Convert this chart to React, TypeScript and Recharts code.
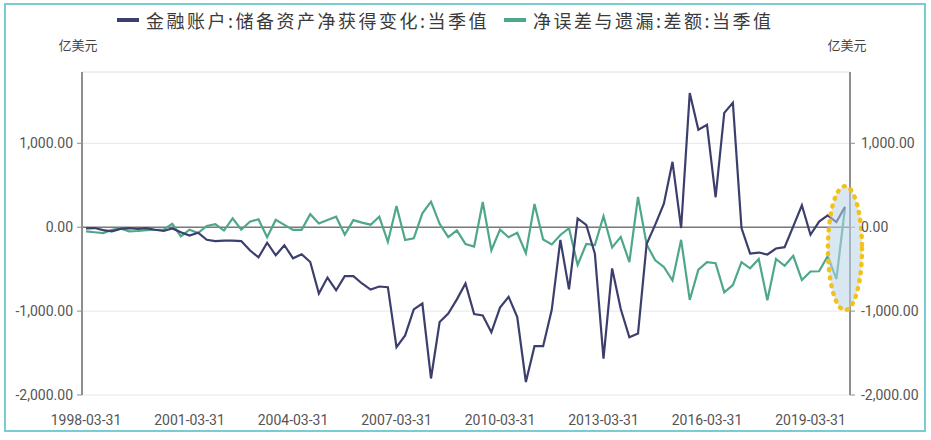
import React from "react";
import {
  CartesianGrid,
  Legend,
  Line,
  LineChart,
  ReferenceDot,
  ReferenceLine,
  XAxis,
  YAxis,
} from "recharts";

// quarterly, 1998-03-31 .. 2020-03-31
const QUARTER_ENDS = ["03-31", "06-30", "09-30", "12-31"];
const dates: string[] = [];
for (let y = 1998; y <= 2020; y++) {
  for (const q of QUARTER_ENDS) {
    if (dates.length < 89) dates.push(`${y}-${q}`);
  }
}

const xTicks = ["1998-03-31", "2001-03-31", "2004-03-31", "2007-03-31", "2010-03-31", "2013-03-31", "2016-03-31", "2019-03-31"];
const yTicks = [-2000, -1000, 0, 1000];
const Y_MIN = -2000;
const Y_MAX = 1850;

const RESERVE_NAME = "金融账户:储备资产净获得变化:当季值";
const ERRORS_NAME = "净误差与遗漏:差额:当季值";
const legendOrder = [RESERVE_NAME, ERRORS_NAME];

// 亿美元
const reserveChange = [
  -15, -10, -35, -50, -20, -10, -20, -10, -30, -45,
  -15, -60, -100, -65, -150, -165, -160, -160, -165, -275,
  -360, -185, -335, -215, -370, -322, -415, -790, -600, -752,
  -584, -584, -671, -743, -707, -715, -1430, -1290, -980, -910,
  -1803, -1130, -1030, -860, -670, -1036, -1052, -1253, -958, -829,
  -1072, -1845, -1418, -1418, -984, -152, -741, 104, 28, -315,
  -1567, -491, -975, -1313, -1268, -200, 30, 280, 780, -10,
  1600, 1162, 1220, 357, 1363, 1483, -10, -314, -302, -325,
  -254, -238, 10, 262, -90, 67, 142, 62, 243,
];

const errorsOmissions = [
  -50, -60, -70, -30, -15, -50, -45, -35, -30, -30,
  40, -110, -30, -70, 15, 35, -40, 105, -30, 65,
  95, -120, 87, 28, -32, -32, 155, 45, 87, 125,
  -90, 85, 55, 30, 125, -175, 252, -152, -132, 165,
  304, 40, -118, -38, -200, -230, 300, -275, -28, -120,
  -67, -310, 276, -146, -205, -93, -12, -450, -200, -213,
  130, -240, -115, -416, 362, -206, -394, -474, -635, -150,
  -867, -505, -417, -430, -777, -690, -417, -490, -379, -870,
  -379, -460, -341, -630, -528, -525, -343, -620, 230,
];

const highlightValue = -250;

const data = dates.map((d, i) => ({
  date: d,
  reserve: reserveChange[i],
  errors: errorsOmissions[i],
}));

const NAVY = "#3c3f6d";
const TEAL = "#4fa78b";
const TICK_FONT = { fontSize: 14, fill: "#555", fontFamily: "Roboto, sans-serif" };

const fmt = (v: number) =>
  v.toLocaleString("en-US", { minimumFractionDigits: 2, maximumFractionDigits: 2 });

function LegendContent({ payload }: any) {
  const items = [...(payload || [])].sort(
    (a: any, b: any) => legendOrder.indexOf(a.value) - legendOrder.indexOf(b.value)
  );
  return (
    <div style={{ display: "flex", alignItems: "center", paddingLeft: 117, height: 28 }}>
      {items.map((p: any) => (
        <div key={p.value} style={{ display: "flex", alignItems: "center", marginRight: 15 }}>
          <span style={{ width: 22, height: 4, background: p.color, display: "inline-block", marginRight: 7 }} />
          <span
            style={{
              fontFamily: "'Noto Sans CJK SC', sans-serif",
              fontSize: 18,
              letterSpacing: 2.5,
              color: "#3a3a3a",
            }}
          >
            {p.value}
          </span>
        </div>
      ))}
    </div>
  );
}

const unitLabel = (side: "left" | "right") => (props: any) => {
  const vb = props.viewBox;
  const x = side === "left" ? vb.x + vb.width - 4 : vb.x - 3;
  return (
    <text
      x={x}
      y={vb.y - 22}
      textAnchor="middle"
      fontSize={13}
      fill="#444"
      fontFamily="'Noto Sans CJK SC', sans-serif"
    >
      亿美元
    </text>
  );
};

export default function App() {
  return (
    <div style={{ position: "absolute", left: 0, top: 0, width: 931, height: 440, background: "#fff" }}>
      <div
        style={{
          position: "absolute",
          left: 4,
          top: 3,
          width: 922,
          height: 429,
          border: "2px solid #79cdd2",
          boxSizing: "border-box",
        }}
      />
      <LineChart
        width={931}
        height={440}
        data={data}
        margin={{ top: 44, right: 0, bottom: 10, left: 0 }}
        style={{ position: "absolute", left: 0, top: 0 }}
      >
        <CartesianGrid stroke="#e6e6e6" vertical={false} yAxisId="left" />
        <XAxis
          dataKey="date"
          ticks={xTicks}
          interval={0}
          tick={TICK_FONT}
          tickLine={false}
          axisLine={false}
          tickMargin={14}
          height={35}
          padding={{ left: 4, right: 5 }}
        />
        <YAxis
          yAxisId="left"
          domain={[Y_MIN, Y_MAX]}
          ticks={yTicks}
          interval={0}
          width={82}
          tick={TICK_FONT}
          tickFormatter={fmt}
          tickSize={5}
          tickMargin={4}
          axisLine={{ stroke: "#8f8f8f", strokeWidth: 2 }}
          tickLine={{ stroke: "#8f8f8f" }}
          label={{ content: unitLabel("left") }}
        />
        <YAxis
          yAxisId="right"
          orientation="right"
          domain={[Y_MIN, Y_MAX]}
          ticks={yTicks}
          interval={0}
          width={81}
          tick={TICK_FONT}
          tickFormatter={fmt}
          tickSize={5}
          tickMargin={6}
          axisLine={{ stroke: "#8f8f8f", strokeWidth: 2 }}
          tickLine={{ stroke: "#8f8f8f" }}
          label={{ content: unitLabel("right") }}
        />
        <ReferenceLine yAxisId="left" y={Y_MAX} stroke="#ececec" />
        <ReferenceLine yAxisId="left" y={0} stroke="#7a7a7a" strokeWidth={1.5} />
        <Legend
          verticalAlign="top"
          content={<LegendContent />}
          wrapperStyle={{ top: 6, left: 0, width: 931 }}
        />
        <Line
          yAxisId="right"
          name={ERRORS_NAME}
          dataKey="errors"
          stroke={TEAL}
          strokeWidth={2.2}
          dot={false}
          isAnimationActive={false}
        />
        <Line
          yAxisId="left"
          name={RESERVE_NAME}
          dataKey="reserve"
          stroke={NAVY}
          strokeWidth={2.2}
          dot={false}
          isAnimationActive={false}
        />
        <ReferenceDot
          yAxisId="left"
          x={dates[dates.length - 1]}
          y={highlightValue}
          shape={(p: any) => (
            <ellipse
              cx={p.cx}
              cy={p.cy}
              rx={17}
              ry={62}
              fill="#b9d3ea"
              fillOpacity={0.55}
              stroke="#f2c21b"
              strokeWidth={4.5}
              strokeDasharray="1 7"
              strokeLinecap="round"
            />
          )}
        />
      </LineChart>
    </div>
  );
}
